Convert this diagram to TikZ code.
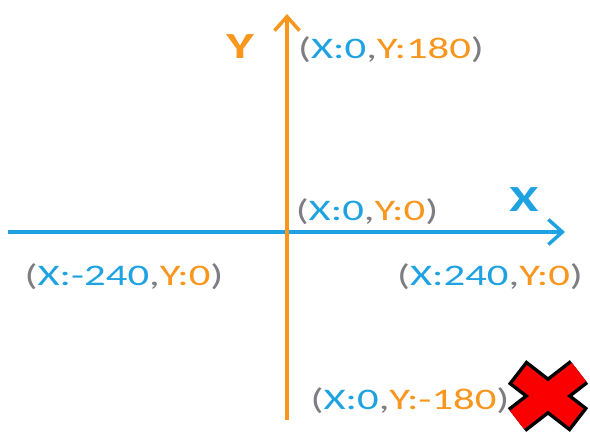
\documentclass[tikz,border=0pt]{standalone}
\usepackage{fontspec}
\setmainfont{Carlito}
\usetikzlibrary{arrows.meta}
\definecolor{axisblue}{RGB}{30,162,225}
\definecolor{axisorange}{RGB}{248,150,30}
\definecolor{bracketgray}{RGB}{125,125,130}
\definecolor{crossred}{RGB}{250,0,0}
\newcommand{\wide}[1]{\scalebox{1.43}[1]{#1}}
\newcommand{\place}[2]{\wide{\textcolor{bracketgray}{(}\textcolor{axisblue}{X:#1}\textcolor{bracketgray}{,}\textcolor{axisorange}{Y:#2}\textcolor{bracketgray}{)}}}

\begin{document}
\begin{tikzpicture}[
  x=0.02cm, y=0.02cm,
  axis/.style={line width=0.08cm,-{Straight Barb[length=0.28cm,width=0.5cm,line width=0.07cm]}},
  coord/.style={font=\fontsize{17}{20}\selectfont, inner sep=0pt},
  axisname/.style={font=\fontsize{21}{24}\selectfont\bfseries, inner sep=0pt}
]
\useasboundingbox (0,0) rectangle (590,432);

% Axes
\coordinate (xstart) at (8,200);
\coordinate (xend) at (565,200);
\coordinate (ystart) at (287,12);
\coordinate (yend) at (287,418);
\draw[axis, axisblue] (xstart) -- (xend);
\draw[axis, axisorange] (ystart) -- (yend);

% Axis names
\node[axisname, text=axisorange] (yname) at (240,385) {\wide{Y}};
\node[axisname, text=axisblue] (xname) at (524,232) {\wide{X}};

% Points
\node[coord] (top) at (391,382) {\place{0}{180}};
\node[coord] (origin) at (367,220) {\place{0}{0}};
\node[coord] (right) at (490,155) {\place{240}{0}};
\node[coord] (left) at (124,155) {\place{-240}{0}};
\node[coord] (bottom) at (410,31) {\place{0}{-180}};

% Red cross
\begin{scope}[shift={(548,36)}]
  \draw[black, line width=0.6cm] (-31,-24) -- (31,24) (-31,24) -- (31,-24);
  \draw[crossred, line width=0.46cm, shorten <=0.07cm, shorten >=0.07cm]
    (-31,-24) -- (31,24) (-31,24) -- (31,-24);
\end{scope}
\end{tikzpicture}
\end{document}
